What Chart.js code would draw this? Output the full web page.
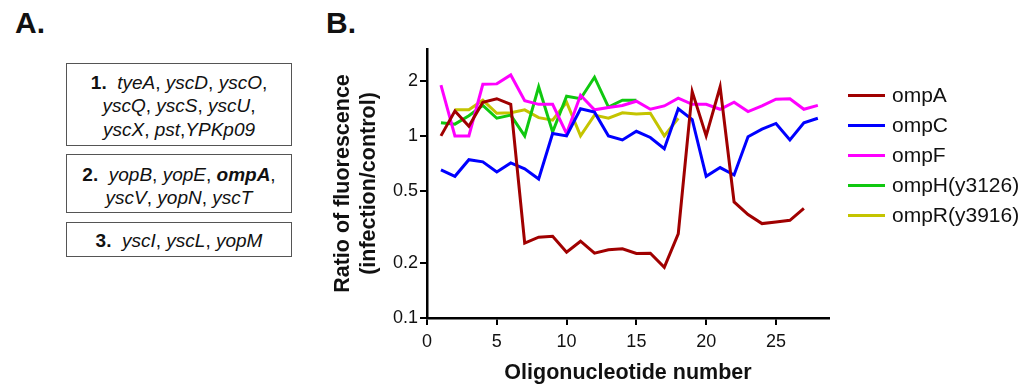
<!DOCTYPE html>
<html>
<head>
<meta charset="utf-8">
<script src="https://cdn.jsdelivr.net/npm/chart.js@4.4.0/dist/chart.umd.min.js"></script>
<style>
  body { margin: 0; width: 1031px; height: 388px; background: #fff; position: relative; overflow: hidden;
         font-family: "Liberation Sans", Arial, sans-serif; color: #111; }
  .panel { position: absolute; font-weight: bold; font-size: 30px; line-height: 30px; }
  .box { position: absolute; left: 66px; width: 226px; box-sizing: border-box; border: 1px solid #555;
         text-align: center; font-size: 19px; line-height: 23.4px; }
  .box i { font-style: italic; }
  #chartWrap { position: absolute; left: 320px; top: 0; }
  #legend { position: absolute; left: 848px; top: 0; }
  .lg { position: absolute; left: 0; white-space: nowrap; font-size: 21px; }
  .lg span.ln { position: absolute; left: 0; width: 37px; height: 3px; }
  .lg span.tx { position: absolute; left: 44px; }
</style>
</head>
<body>
<div class="panel" style="left:15px; top:8px;">A.</div>
<div class="panel" style="left:326px; top:8px;">B.</div>

<div class="box" style="top:63px; height:83px; padding-top:7px;">
  <b>1.</b>&nbsp; <i>tyeA</i>, <i>yscD</i>, <i>yscO</i>,<br>
  <i>yscQ</i>, <i>yscS</i>, <i>yscU</i>,<br>
  <i>yscX</i>, <i>pst</i>,<i>YPKp09</i>
</div>
<div class="box" style="top:154px; height:59px; padding-top:8px;">
  <b>2.</b>&nbsp; <i>yopB</i>, <i>yopE</i>, <b><i>ompA</i></b>,<br>
  <i>yscV</i>, <i>yopN</i>, <i>yscT</i>
</div>
<div class="box" style="top:222px; height:35px; padding-top:6px;">
  <b>3.</b>&nbsp; <i>yscI</i>, <i>yscL</i>, <i>yopM</i>
</div>

<div id="chartWrap"><canvas id="chart" width="540" height="388"></canvas></div>
<div id="legend"></div>

<script>
// oligonucleotide numbers 1..28
var oligo = [1, 2, 3, 4, 5, 6, 7, 8, 9, 10, 11, 12, 13, 14, 15, 16, 17, 18, 19, 20, 21, 22, 23, 24, 25, 26, 27, 28];

var ompA = [1.0, 1.37, 1.13, 1.53, 1.60, 1.49, 0.258, 0.278, 0.281, 0.23, 0.264, 0.227, 0.237, 0.24,
            0.226, 0.227, 0.19, 0.29, 1.75, 1.0, 1.86, 0.434, 0.37, 0.33, 0.337, 0.344, 0.40, null];
var ompC = [0.65, 0.60, 0.74, 0.72, 0.634, 0.71, 0.66, 0.58, 1.03, 1.0, 1.41, 1.35, 1.0, 0.95,
            1.06, 0.98, 0.85, 1.41, 1.23, 0.60, 0.67, 0.61, 0.99, 1.09, 1.17, 0.95, 1.18, 1.25];
var ompF = [1.9, 1.0, 1.0, 1.92, 1.93, 2.16, 1.56, 1.49, 1.49, 1.03, 1.67, 1.39, 1.43, 1.47,
            1.55, 1.40, 1.46, 1.61, 1.49, 1.49, 1.40, 1.53, 1.36, 1.46, 1.59, 1.60, 1.40, 1.47];
var ompH = [1.18, 1.16, 1.29, 1.47, 1.25, 1.30, 1.0, 1.86, 1.05, 1.65, 1.60, 2.1, 1.44, 1.57,
            1.57, null, null, null, null, null, null, null, null, null, null, null, null, null];
var ompR = [null, 1.39, 1.39, 1.57, 1.33, 1.34, 1.39, 1.26, 1.22, 1.53, 1.0, 1.30, 1.25, 1.34,
            1.32, 1.33, 1.0, 1.25, null, null, null, null, null, null, null, null, null, null];

var seriesNames = ['ompA', 'ompC', 'ompF', 'ompH(y3126)', 'ompR(y3916)'];
var seriesData = [ompA, ompC, ompF, ompH, ompR];
var seriesColors = ['#a00000', '#0000ff', '#ff00ff', '#10c810', '#c4c400'];

var yTickValues = [0.1, 0.2, 0.5, 1, 2];
var xTickValues = [0, 5, 10, 15, 20, 25];

function toPoints(vals) {
  return oligo.map(function(n, i) { return { x: n, y: vals[i] }; });
}

var datasets = seriesNames.map(function(name, i) {
  return {
    label: name,
    data: toPoints(seriesData[i]),
    borderColor: seriesColors[i],
    backgroundColor: seriesColors[i],
    borderWidth: 3,
    pointRadius: 0,
    tension: 0,
    spanGaps: false
  };
});

var fontFam = '"Liberation Sans", Arial, sans-serif';

var ctx = document.getElementById('chart').getContext('2d');
var chart = new Chart(ctx, {
  type: 'line',
  data: { datasets: datasets },
  options: {
    responsive: false,
    animation: false,
    devicePixelRatio: 1,
    layout: { padding: { top: 49, right: 31, left: 0, bottom: 0 } },
    plugins: { legend: { display: false }, tooltip: { enabled: false } },
    scales: {
      x: {
        type: 'linear',
        min: 0,
        max: 28.8,
        afterBuildTicks: function(scale) {
          scale.ticks = xTickValues.map(function(v) { return { value: v }; });
        },
        afterFit: function(scale) { scale.height = 70; },
        ticks: { color: '#111', font: { family: fontFam, size: 18 }, padding: 6, maxRotation: 0 },
        grid: { drawOnChartArea: false, drawTicks: true, tickLength: 7, color: '#000', lineWidth: 2 },
        border: { color: '#000', width: 2.5 },
        title: {
          display: true,
          text: 'Oligonucleotide number',
          color: '#111',
          font: { family: fontFam, size: 21.5, weight: 'bold' },
          padding: { top: 0, bottom: 2 }
        }
      },
      y: {
        type: 'logarithmic',
        min: 0.1,
        max: 3,
        afterBuildTicks: function(scale) {
          scale.ticks = yTickValues.map(function(v) { return { value: v }; });
        },
        afterFit: function(scale) { scale.width = 107; },
        ticks: {
          color: '#111',
          font: { family: fontFam, size: 18 },
          padding: 2,
          callback: function(v) { return String(v); }
        },
        grid: { drawOnChartArea: false, drawTicks: true, tickLength: 7, color: '#000', lineWidth: 2 },
        border: { color: '#000', width: 2.5 },
        title: {
          display: true,
          text: ['Ratio of fluorescence', '(infection/control)'],
          color: '#111',
          font: { family: fontFam, size: 21.5, weight: 'bold' },
          padding: { top: 10, bottom: 0 }
        }
      }
    }
  }
});

// legend on the right
var legend = document.getElementById('legend');
seriesNames.forEach(function(name, i) {
  var row = document.createElement('div');
  row.className = 'lg';
  var cy = 95 + i * 30;
  row.style.top = (cy - 12) + 'px';
  row.innerHTML = '<span class="ln" style="top:11px;background:' + seriesColors[i] + '"></span>' +
                  '<span class="tx" style="top:0;line-height:24px">' + name + '</span>';
  legend.appendChild(row);
});
</script>
</body>
</html>
